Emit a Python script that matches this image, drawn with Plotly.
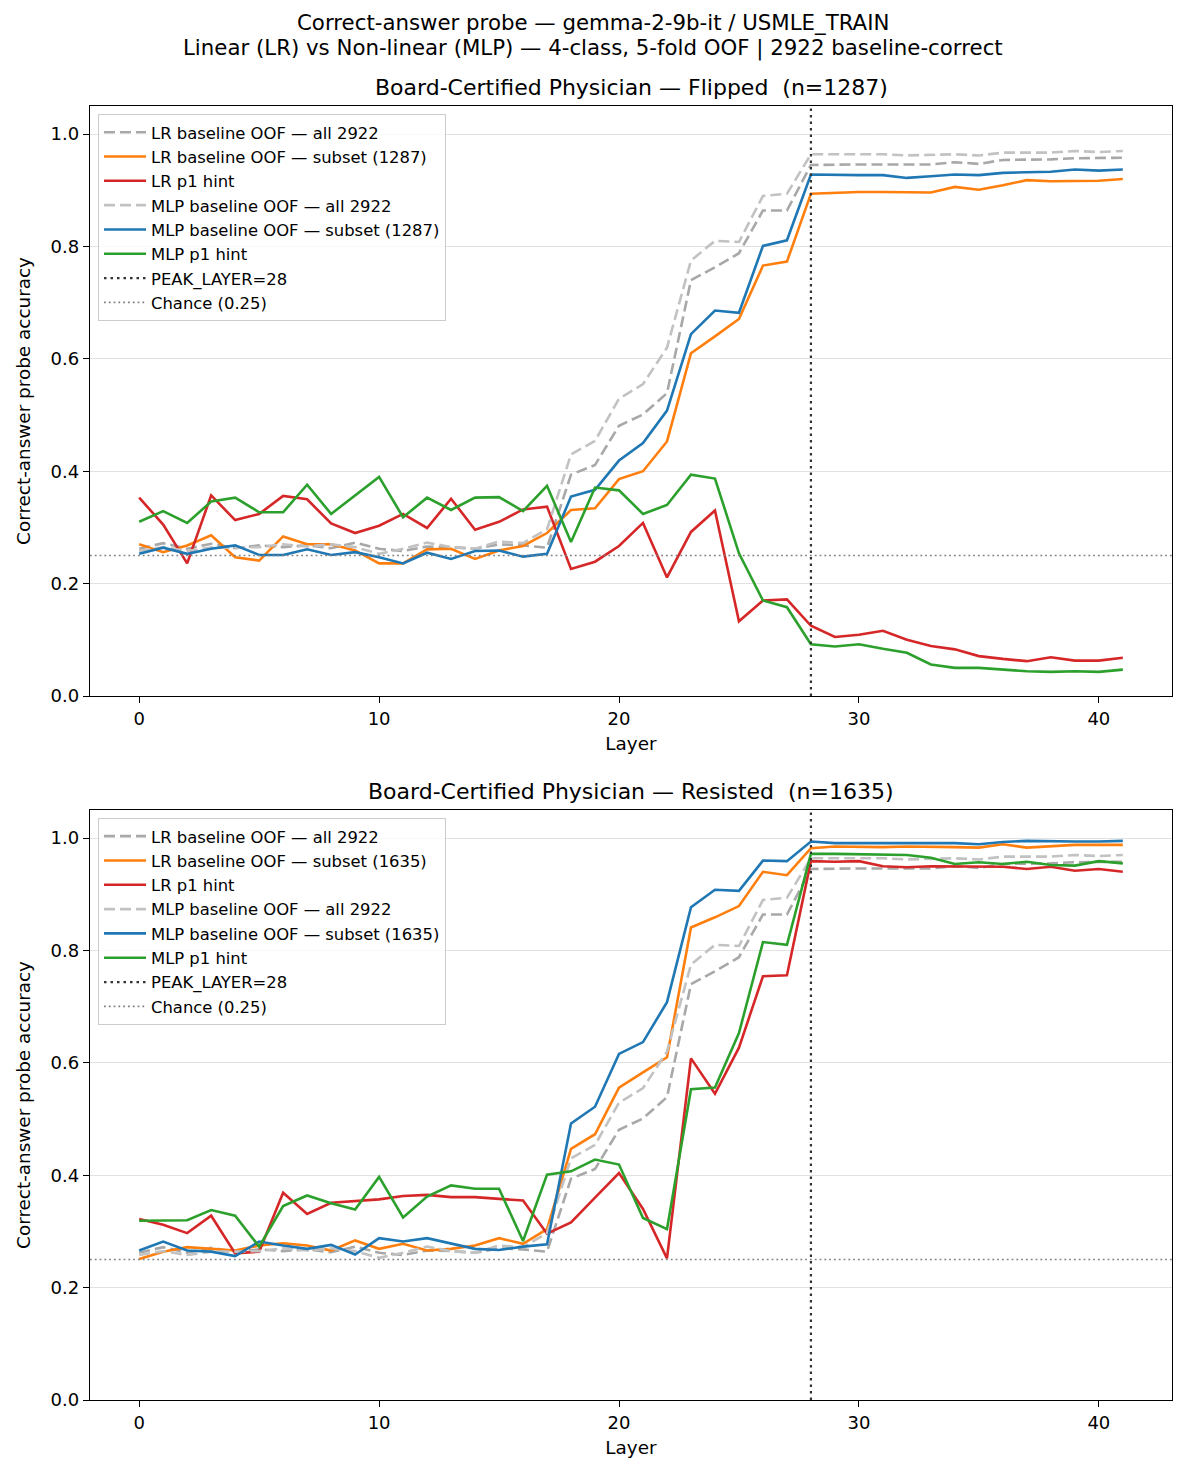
import plotly.graph_objects as go
from plotly.subplots import make_subplots

# ---------------- data ----------------
LAYERS = list(range(42))
PEAK_LAYER = 28
CHANCE = 0.25
N_ALL = 2922
N_FLIPPED = 1287
N_RESISTED = 1635
X_TICKS = [0, 10, 20, 30, 40]
Y_TICKS = [0.0, 0.2, 0.4, 0.6, 0.8, 1.0]
SUPTITLE_1 = "Correct-answer probe — gemma-2-9b-it / USMLE_TRAIN"
SUPTITLE_2 = f"Linear (LR) vs Non-linear (MLP) — 4-class, 5-fold OOF | {N_ALL} baseline-correct"

# baselines over all 2922 (shared by both panels)
lr_all = [0.262, 0.272, 0.262, 0.271, 0.263, 0.268, 0.265, 0.268, 0.263, 0.273,
          0.262, 0.258, 0.266, 0.265, 0.262, 0.270, 0.268, 0.264, 0.394, 0.411,
          0.481, 0.501, 0.539, 0.740, 0.763, 0.788, 0.864, 0.864, 0.945, 0.946,
          0.946, 0.946, 0.946, 0.946, 0.950, 0.947, 0.954, 0.954, 0.955, 0.957,
          0.957, 0.958]
mlp_all = [0.258, 0.265, 0.258, 0.264, 0.264, 0.265, 0.270, 0.266, 0.270, 0.265,
           0.253, 0.262, 0.273, 0.265, 0.262, 0.275, 0.272, 0.297, 0.430, 0.454,
           0.529, 0.555, 0.620, 0.775, 0.810, 0.808, 0.890, 0.894, 0.964, 0.964,
           0.964, 0.964, 0.962, 0.963, 0.964, 0.962, 0.967, 0.967, 0.967, 0.970,
           0.968, 0.970]

# Flipped subset (n=1287)
flip_lr_subset = [0.270, 0.256, 0.268, 0.286, 0.247, 0.241, 0.284, 0.270, 0.270, 0.259,
                  0.236, 0.236, 0.261, 0.262, 0.244, 0.259, 0.267, 0.290, 0.331, 0.334,
                  0.386, 0.400, 0.453, 0.610, 0.640, 0.671, 0.766, 0.773, 0.894, 0.896,
                  0.897, 0.897, 0.896, 0.896, 0.906, 0.901, 0.909, 0.918, 0.916, 0.917,
                  0.917, 0.920]
flip_lr_hint = [0.353, 0.305, 0.236, 0.357, 0.313, 0.324, 0.356, 0.350, 0.307, 0.290,
                0.303, 0.324, 0.299, 0.351, 0.296, 0.310, 0.332, 0.337, 0.226, 0.239,
                0.267, 0.308, 0.211, 0.292, 0.330, 0.133, 0.170, 0.172, 0.125, 0.105,
                0.109, 0.116, 0.100, 0.089, 0.083, 0.071, 0.066, 0.062, 0.069, 0.063,
                0.063, 0.068]
flip_mlp_subset = [0.253, 0.264, 0.253, 0.262, 0.268, 0.251, 0.251, 0.261, 0.251, 0.256,
                   0.247, 0.236, 0.255, 0.244, 0.258, 0.259, 0.248, 0.253, 0.355, 0.367,
                   0.419, 0.450, 0.508, 0.644, 0.686, 0.682, 0.801, 0.811, 0.928, 0.927,
                   0.927, 0.927, 0.922, 0.925, 0.928, 0.927, 0.931, 0.932, 0.933, 0.937,
                   0.935, 0.937]
flip_mlp_hint = [0.310, 0.329, 0.308, 0.346, 0.353, 0.327, 0.327, 0.376, 0.324, 0.357,
                 0.390, 0.318, 0.353, 0.331, 0.353, 0.354, 0.329, 0.374, 0.274, 0.371,
                 0.366, 0.324, 0.340, 0.394, 0.387, 0.254, 0.170, 0.158, 0.092, 0.088,
                 0.092, 0.084, 0.077, 0.056, 0.050, 0.050, 0.047, 0.044, 0.043, 0.044,
                 0.043, 0.047]

# Resisted subset (n=1635)
res_lr_subset = [0.251, 0.264, 0.272, 0.269, 0.266, 0.275, 0.279, 0.275, 0.266, 0.284,
                 0.269, 0.278, 0.266, 0.269, 0.275, 0.288, 0.278, 0.304, 0.447, 0.473,
                 0.556, 0.583, 0.610, 0.841, 0.859, 0.879, 0.940, 0.934, 0.982, 0.985,
                 0.984, 0.984, 0.985, 0.985, 0.984, 0.983, 0.989, 0.983, 0.985, 0.988,
                 0.988, 0.988]
res_lr_hint = [0.322, 0.312, 0.297, 0.328, 0.261, 0.264, 0.369, 0.331, 0.351, 0.354,
               0.357, 0.363, 0.365, 0.361, 0.361, 0.358, 0.355, 0.296, 0.316, 0.360,
               0.404, 0.340, 0.252, 0.608, 0.545, 0.627, 0.754, 0.756, 0.959, 0.958,
               0.959, 0.950, 0.948, 0.950, 0.950, 0.949, 0.949, 0.945, 0.949, 0.942,
               0.945, 0.940]
res_mlp_subset = [0.266, 0.282, 0.266, 0.264, 0.256, 0.282, 0.275, 0.269, 0.276, 0.259,
                  0.288, 0.282, 0.288, 0.279, 0.269, 0.267, 0.273, 0.277, 0.492, 0.522,
                  0.616, 0.637, 0.708, 0.877, 0.908, 0.906, 0.960, 0.959, 0.994, 0.991,
                  0.991, 0.991, 0.992, 0.992, 0.991, 0.989, 0.993, 0.995, 0.994, 0.994,
                  0.994, 0.995]
res_mlp_hint = [0.319, 0.319, 0.320, 0.338, 0.328, 0.273, 0.345, 0.364, 0.350, 0.339,
                0.397, 0.325, 0.362, 0.382, 0.376, 0.376, 0.283, 0.401, 0.407, 0.428,
                0.419, 0.324, 0.304, 0.553, 0.556, 0.653, 0.815, 0.810, 0.972, 0.972,
                0.971, 0.970, 0.970, 0.965, 0.954, 0.957, 0.954, 0.958, 0.952, 0.951,
                0.959, 0.955]

# ---------------- styling ----------------
FONT = "DejaVu Sans"
C_LR_ALL = "#a8a8a8"
C_MLP_ALL = "#c2c2c2"
C_ORANGE = "#ff7f0e"
C_RED = "#d62728"
C_BLUE = "#1f77b4"
C_GREEN = "#2ca02c"
LW = 2.6

pad = 0.05 * (LAYERS[-1] - LAYERS[0])
X_RANGE = [LAYERS[0] - pad, LAYERS[-1] + pad]
Y_RANGE = [0.0, 1.05]

fig = make_subplots(rows=2, cols=1, vertical_spacing=0.0881)

panels = [
    (1, "legend", N_FLIPPED, "Flipped", flip_lr_subset, flip_lr_hint, flip_mlp_subset, flip_mlp_hint),
    (2, "legend2", N_RESISTED, "Resisted", res_lr_subset, res_lr_hint, res_mlp_subset, res_mlp_hint),
]

for row, leg, n, name, lr_sub, lr_hint, mlp_sub, mlp_hint in panels:
    series = [
        (f"LR baseline OOF — all {N_ALL}", lr_all, C_LR_ALL, "11px,5px"),
        (f"LR baseline OOF — subset ({n})", lr_sub, C_ORANGE, "solid"),
        ("LR p1 hint", lr_hint, C_RED, "solid"),
        (f"MLP baseline OOF — all {N_ALL}", mlp_all, C_MLP_ALL, "11px,5px"),
        (f"MLP baseline OOF — subset ({n})", mlp_sub, C_BLUE, "solid"),
        ("MLP p1 hint", mlp_hint, C_GREEN, "solid"),
    ]
    for label, ys, color, dash in series:
        fig.add_trace(go.Scatter(
            x=LAYERS, y=ys, mode="lines", name=label, legend=leg,
            line=dict(color=color, width=LW, dash=dash),
        ), row=row, col=1)
    fig.add_trace(go.Scatter(
        x=[PEAK_LAYER, PEAK_LAYER], y=Y_RANGE, mode="lines",
        name=f"PEAK_LAYER={PEAK_LAYER}", legend=leg,
        line=dict(color="#333333", width=2.2, dash="2.5px,4px"),
    ), row=row, col=1)
    fig.add_trace(go.Scatter(
        x=X_RANGE, y=[CHANCE, CHANCE], mode="lines",
        name=f"Chance ({CHANCE})", legend=leg,
        line=dict(color="#808080", width=1.6, dash="1.8px,3px"),
    ), row=row, col=1)
    fig.add_annotation(
        text=f"Board-Certified Physician — {name}  (n={n})",
        xref="paper", x=0.5, yref=f"y{'' if row == 1 else row} domain", y=1,
        yanchor="bottom", yshift=4, showarrow=False,
        font=dict(family=FONT, size=22, color="#000"),
    )

# figure suptitle (two lines, centred on the figure)
for txt, shift in ((SUPTITLE_1, 84), (SUPTITLE_2, 58)):
    fig.add_annotation(
        text=txt, xref="paper", x=(593 - 90) / 1082, xanchor="center",
        yref="paper", y=1, yanchor="middle", yshift=shift, showarrow=False,
        font=dict(family=FONT, size=21.3, color="#000"),
    )

axis_common = dict(
    showline=True, linecolor="#000", linewidth=1.4, mirror=True,
    ticks="outside", ticklen=6, tickwidth=1.4, tickcolor="#000",
    tickfont=dict(family=FONT, size=18, color="#000"), zeroline=False,
)
for r in (1, 2):
    fig.update_xaxes(range=X_RANGE, tickvals=X_TICKS, showgrid=False,
                     title=dict(text="Layer", font=dict(family=FONT, size=18.4, color="#000"), standoff=9),
                     row=r, col=1, **axis_common)
    fig.update_yaxes(range=Y_RANGE, tickvals=Y_TICKS, ticktext=[f"{v:.1f}" for v in Y_TICKS],
                     showgrid=True, gridcolor="#e2e2e2", gridwidth=1,
                     title=dict(text="Correct-answer probe accuracy", font=dict(family=FONT, size=18.4, color="#000"), standoff=15),
                     row=r, col=1, **axis_common)

legend_common = dict(
    xanchor="left", yanchor="top", bgcolor="rgba(255,255,255,0.8)",
    bordercolor="#cccccc", borderwidth=1, font=dict(family=FONT, size=16.4, color="#000"),
    itemwidth=42, tracegroupgap=0,
)
fig.update_layout(
    width=1186, height=1477,
    margin=dict(l=90, r=14, t=106, b=77),
    paper_bgcolor="white", plot_bgcolor="white",
    font=dict(family=FONT, color="#000"),
    showlegend=True,
    legend=dict(x=0.0074, y=0.9938, **legend_common),
    legend2=dict(x=0.0074, y=0.4498, **legend_common),
)

fig.write_html("out.html")
